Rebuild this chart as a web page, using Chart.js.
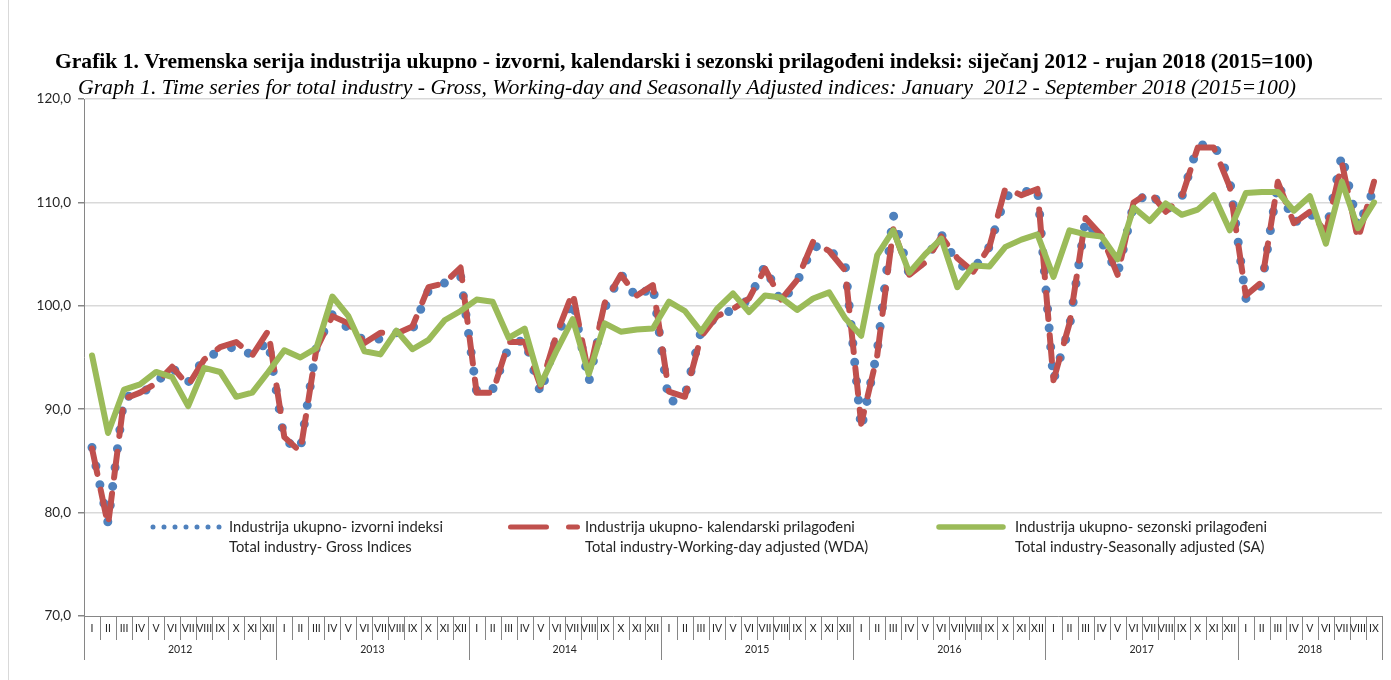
<!DOCTYPE html>
<html>
<head>
<meta charset="utf-8">
<script src="https://cdn.jsdelivr.net/npm/chart.js@4.4.1/dist/chart.umd.min.js"></script>
<style>
html,body{margin:0;padding:0;background:#fff;}
canvas{display:block;}
</style>
</head>
<body>
<canvas id="c" width="1391" height="680"></canvas>
<script>
// ---------------- DATA ----------------
const romanMonths = ['I','II','III','IV','V','VI','VII','VIII','IX','X','XI','XII'];
const years = ['2012','2013','2014','2015','2016','2017','2018'];
const monthsInLastYear = 9;
const categories = [];
years.forEach((y, yi) => {
  const n = yi === years.length - 1 ? monthsInLastYear : 12;
  for (let m = 0; m < n; m++) categories.push(romanMonths[m]);
});

// Industrija ukupno - izvorni indeksi (Gross)
const gross = [
  86.3, 79.0, 91.2, 91.4, 92.6, 94.0, 92.6, 94.9, 95.6, 96.1, 95.2, 96.6,
  87.0, 86.1, 96.0, 99.2, 97.8, 96.6, 96.8, 97.4, 97.7, 101.5, 102.2, 102.9,
  91.7, 91.9, 96.0, 96.8, 91.5, 97.0, 100.5, 92.6, 99.8, 103.1, 100.7, 102.0,
  90.6, 91.3, 97.5, 99.0, 99.6, 100.6, 103.9, 100.3, 102.3, 105.8, 105.4, 104.0,
  88.1, 95.6, 108.8, 103.0, 104.5, 106.9, 104.0, 103.5, 105.7, 110.6, 110.9, 111.4,
  92.8, 98.0, 108.3, 106.2, 103.1, 109.8, 111.0, 109.2, 110.5, 115.5, 115.7, 112.2,
  100.7, 102.0, 111.9, 108.0, 109.0, 107.1, 114.6, 107.6, 111.3
];
// Industrija ukupno - kalendarski prilagođeni (WDA)
const wda = [
  86.2, 78.8, 91.0, 91.6, 92.5, 94.1, 92.3, 94.8, 96.0, 96.5, 95.2, 97.6,
  87.3, 85.9, 95.8, 99.0, 98.3, 96.4, 97.4, 97.3, 98.0, 101.8, 102.2, 103.7,
  91.6, 91.6, 96.5, 96.5, 92.2, 97.3, 101.3, 93.3, 100.3, 103.0, 101.0, 102.0,
  91.7, 91.2, 97.0, 99.0, 99.7, 100.7, 103.6, 100.6, 102.5, 106.2, 105.3, 103.4,
  88.6, 95.2, 107.4, 103.0, 104.2, 106.7, 104.6, 103.3, 105.7, 111.4, 110.7, 111.3,
  92.8, 98.3, 108.5, 106.8, 103.0, 110.0, 111.0, 109.1, 110.5, 115.3, 115.3, 111.5,
  101.0, 102.3, 112.0, 108.0, 109.1, 107.1, 113.8, 106.4, 112.0
];
// Industrija ukupno - sezonski prilagođeni (SA)
const sa = [
  95.2, 87.7, 91.9, 92.4, 93.6, 93.1, 90.3, 94.0, 93.6, 91.2, 91.6, 93.6,
  95.7, 95.0, 95.9, 100.9, 99.0, 95.6, 95.3, 97.6, 95.8, 96.7, 98.6, 99.5,
  100.6, 100.4, 96.9, 97.8, 92.4, 95.7, 98.7, 93.4, 98.3, 97.5, 97.7, 97.8,
  100.4, 99.5, 97.5, 99.7, 101.2, 99.4, 101.0, 100.8, 99.6, 100.7, 101.3, 98.8,
  97.1, 104.9, 107.3, 103.2, 105.0, 106.5, 101.8, 103.9, 103.8, 105.7, 106.4, 106.9,
  102.8, 107.3, 106.9, 106.7, 104.5, 109.5, 108.2, 109.9, 108.8, 109.3, 110.7, 107.3,
  110.9, 111.0, 111.0, 109.2, 110.6, 106.0, 112.0, 107.5, 110.0
];

const yMin = 70, yMax = 120, yStep = 10;

const titleText = 'Grafik 1. Vremenska serija industrija ukupno - izvorni, kalendarski i sezonski prilagođeni indeksi: siječanj 2012 - rujan 2018 (2015=100)';
const subtitleText = 'Graph 1. Time series for total industry - Gross, Working-day and Seasonally Adjusted indices: January  2012 - September 2018 (2015=100)';

const legendLine1 = ['Industrija ukupno- izvorni indeksi', 'Industrija ukupno- kalendarski prilagođeni', 'Industrija ukupno- sezonski prilagođeni'];
const legendLine2 = ['Total industry- Gross Indices', 'Total industry-Working-day adjusted (WDA)', 'Total industry-Seasonally adjusted (SA)'];

// ---------------- STYLE ----------------
const BLUE = '#4F81BD', RED = '#C0504D', GREEN = '#9BBB59';
const AXIS = '#868686', GRID = '#d9d9d9', TXT = '#262626';
const LABEL_FONT = 'Lato, "Liberation Sans", sans-serif';

function fitText(ctx, text, x, y, targetW, font) {
  ctx.save();
  ctx.font = font;
  const w = ctx.measureText(text).width;
  const s = targetW / w;
  ctx.translate(x, y);
  ctx.scale(s, 1);
  ctx.textAlign = 'center';
  ctx.textBaseline = 'middle';
  ctx.fillText(text, 0, 0);
  ctx.restore();
}

const decoPlugin = {
  id: 'deco',
  beforeDraw(chart) {
    const ctx = chart.ctx;
    ctx.save();
    ctx.fillStyle = '#fff';
    ctx.fillRect(0, 0, chart.width, chart.height);
    // light frame line on the left edge of the chart object
    ctx.strokeStyle = '#d9d9d9';
    ctx.lineWidth = 1;
    ctx.beginPath(); ctx.moveTo(8.5, 0); ctx.lineTo(8.5, chart.height); ctx.stroke();
    ctx.restore();
  },
  afterDraw(chart) {
    const ctx = chart.ctx;
    const xs = chart.scales.x;
    const area = chart.chartArea;
    ctx.save();
    // Titles
    ctx.fillStyle = '#000';
    fitText(ctx, titleText, 684, 63, 1258, 'bold 21px "Liberation Serif", serif');
    fitText(ctx, subtitleText, 687, 88, 1218, 'italic 21px "Liberation Serif", serif');

    // Multi-level category axis
    const n = categories.length;
    const step = (xs.getPixelForValue(1) - xs.getPixelForValue(0));
    ctx.strokeStyle = AXIS;
    ctx.lineWidth = 1;
    for (let i = 0; i <= n; i++) {
      const x = Math.round(xs.getPixelForValue(Math.min(i, n - 1)) + (i === n ? step / 2 : -step / 2)) + 0.5;
      const long = (i % 12 === 0) || i === n;
      ctx.beginPath();
      ctx.moveTo(x, area.bottom);
      ctx.lineTo(x, long ? area.bottom + 44 : area.bottom + 24);
      ctx.stroke();
    }
    ctx.fillStyle = TXT;
    ctx.font = '10.5px ' + LABEL_FONT;
    ctx.textAlign = 'center';
    ctx.textBaseline = 'middle';
    for (let i = 0; i < n; i++) {
      ctx.fillText(categories[i], xs.getPixelForValue(i), area.bottom + 13);
    }
    years.forEach((y, yi) => {
      const first = yi * 12;
      const last = Math.min(first + 11, n - 1);
      const cx = (xs.getPixelForValue(first) + xs.getPixelForValue(last)) / 2;
      ctx.fillText(y, cx, area.bottom + 34);
    });

    // Legend
    const ly1 = 527, ly2 = 547;
    ctx.lineCap = 'round';
    ctx.strokeStyle = BLUE; ctx.lineWidth = 5; ctx.setLineDash([0, 11]);
    ctx.beginPath(); ctx.moveTo(153, ly1); ctx.lineTo(221, ly1); ctx.stroke();
    ctx.strokeStyle = RED; ctx.lineWidth = 5; ctx.setLineDash([36, 22]);
    ctx.beginPath(); ctx.moveTo(510.5, ly1); ctx.lineTo(577.5, ly1); ctx.stroke();
    ctx.strokeStyle = GREEN; ctx.lineWidth = 5.5; ctx.setLineDash([]);
    ctx.beginPath(); ctx.moveTo(939, ly1); ctx.lineTo(1003, ly1); ctx.stroke();

    ctx.fillStyle = TXT;
    ctx.font = '13px ' + LABEL_FONT;
    const fs = 13 * 214 / ctx.measureText(legendLine1[0]).width;
    ctx.font = fs.toFixed(2) + 'px ' + LABEL_FONT;
    ctx.textAlign = 'left';
    const tx = [229, 585, 1015];
    for (let k = 0; k < 3; k++) {
      ctx.fillText(legendLine1[k], tx[k], ly1);
      ctx.fillText(legendLine2[k], tx[k], ly2);
    }
    ctx.restore();
  }
};

Chart.defaults.font.family = LABEL_FONT;

new Chart(document.getElementById('c'), {
  type: 'line',
  data: {
    labels: categories,
    datasets: [
      { label: legendLine1[0], data: gross, borderColor: BLUE, borderWidth: 9,
        borderDash: [0, 19], borderCapStyle: 'round', borderJoinStyle: 'round',
        pointRadius: 0, tension: 0, fill: false, order: 3 },
      { label: legendLine1[1], data: wda, borderColor: RED, borderWidth: 6,
        borderDash: [26, 16], borderCapStyle: 'round', borderJoinStyle: 'round',
        pointRadius: 0, tension: 0, fill: false, order: 2 },
      { label: legendLine1[2], data: sa, borderColor: GREEN, borderWidth: 6,
        borderCapStyle: 'round', borderJoinStyle: 'round',
        pointRadius: 0, tension: 0, fill: false, order: 1 }
    ]
  },
  options: {
    responsive: false,
    animation: false,
    devicePixelRatio: 1,
    layout: { padding: { top: 99, right: 9, bottom: 0, left: 0 } },
    plugins: {
      legend: { display: false },
      title: { display: false },
      tooltip: { enabled: false }
    },
    scales: {
      x: {
        type: 'category',
        offset: true,
        grid: { display: false, drawOnChartArea: false, drawTicks: false },
        border: { display: true, color: AXIS, width: 1 },
        ticks: { display: false },
        afterFit(scale) { scale.height = 64; }
      },
      y: {
        min: yMin, max: yMax,
        ticks: {
          stepSize: yStep,
          color: TXT,
          font: { size: 13.5, family: LABEL_FONT },
          padding: 7,
          callback: v => v.toFixed(1).replace('.', ',')
        },
        grid: {
          color: ctx => (ctx.tick && ctx.tick.value === yMin) ? 'rgba(0,0,0,0)' : GRID,
          tickColor: AXIS,
          tickLength: 6,
          lineWidth: 1.5
        },
        border: { display: true, color: AXIS, width: 1 },
        afterFit(scale) { scale.width = 84; }
      }
    }
  },
  plugins: [decoPlugin]
});
</script>
</body>
</html>
